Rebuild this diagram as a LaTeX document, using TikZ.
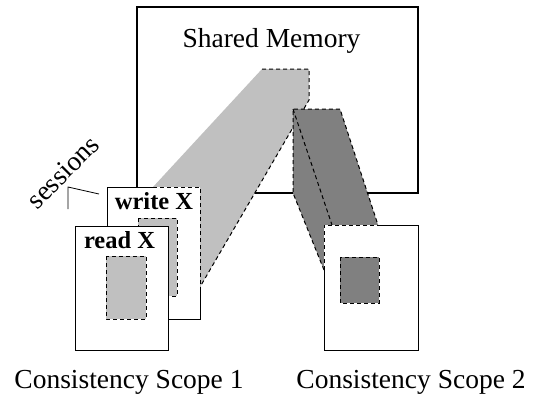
\documentclass[tikz,border=0pt]{standalone}
\usepackage{fontspec}
\setmainfont{Liberation Serif}
\definecolor{lightg}{HTML}{C0C0C0}
\definecolor{darkg}{HTML}{808080}
\begin{document}
\begin{tikzpicture}[x=1pt,y=-1pt,
  solidline/.style={draw=black,line width=1pt},
  dsh/.style={draw=black,dash pattern=on 4pt off 3pt,line width=1pt},
  lab/.style={font=\fontsize{27.5}{30}\selectfont,anchor=base,inner sep=0pt},
  blab/.style={font=\fontsize{24.5}{27}\selectfont\bfseries,anchor=base,inner sep=0pt}]
\useasboundingbox (0,0) rectangle (536,399);
\fill[white] (0,0) rectangle (536,399);
% shared memory
\draw[line width=1.3pt] (137,7) rectangle (418,193);
\node[lab] (mem) at (271.5,47) {Shared Memory};
% light gray projection
\fill[lightg] (153,187) -- (262,69) -- (309,69) -- (309,100) -- (200,287) -- (200,187) -- cycle;
\draw[dsh] (262,69) -- (309,69) -- (309,100) -- (200,287);
% dark gray projection
\fill[darkg] (293,109) -- (340,109) -- (378,225) -- (324,225) -- (324,270) -- (293,193) -- cycle;
\draw[dsh] (324,270) -- (293,193) -- (293,109) -- (340,109) -- (378,225);
\draw[dsh] (293,109) -- (332,225);
% write box
\fill[white] (107,187) rectangle (200,319);
\draw[solidline] (153,187) -- (107,187) -- (107,319) -- (200,319) -- (200,287);
\draw[dsh] (153,187) -- (200,187) -- (200,287);
\draw[dsh,fill=lightg] (138,218) rectangle (177,296);
\node[blab] (wx) at (154,209) {write X};
% read box
\draw[solidline,fill=white] (75,226) rectangle (168,350);
\draw[dsh,fill=lightg] (106,256) rectangle (146,319);
\node[blab] (rx) at (119.5,248) {read X};
% scope 2 box
\fill[white] (324,225) rectangle (418,350);
\draw[solidline] (378,225) -- (418,225) -- (418,350) -- (324,350) -- (324,270);
\draw[dsh] (324,270) -- (324,225) -- (378,225);
\draw[dsh,fill=darkg] (340,257) rectangle (379,303);
% sessions
\draw[line width=0.8pt] (68,209) -- (68,187) -- (99,194);
\node[lab,anchor=center,rotate=45] (sess) at (63,172) {sessions};
% labels
\node[lab] (cs1) at (129,388) {Consistency Scope 1};
\node[lab] (cs2) at (411,388) {Consistency Scope 2};
\end{tikzpicture}
\end{document}
